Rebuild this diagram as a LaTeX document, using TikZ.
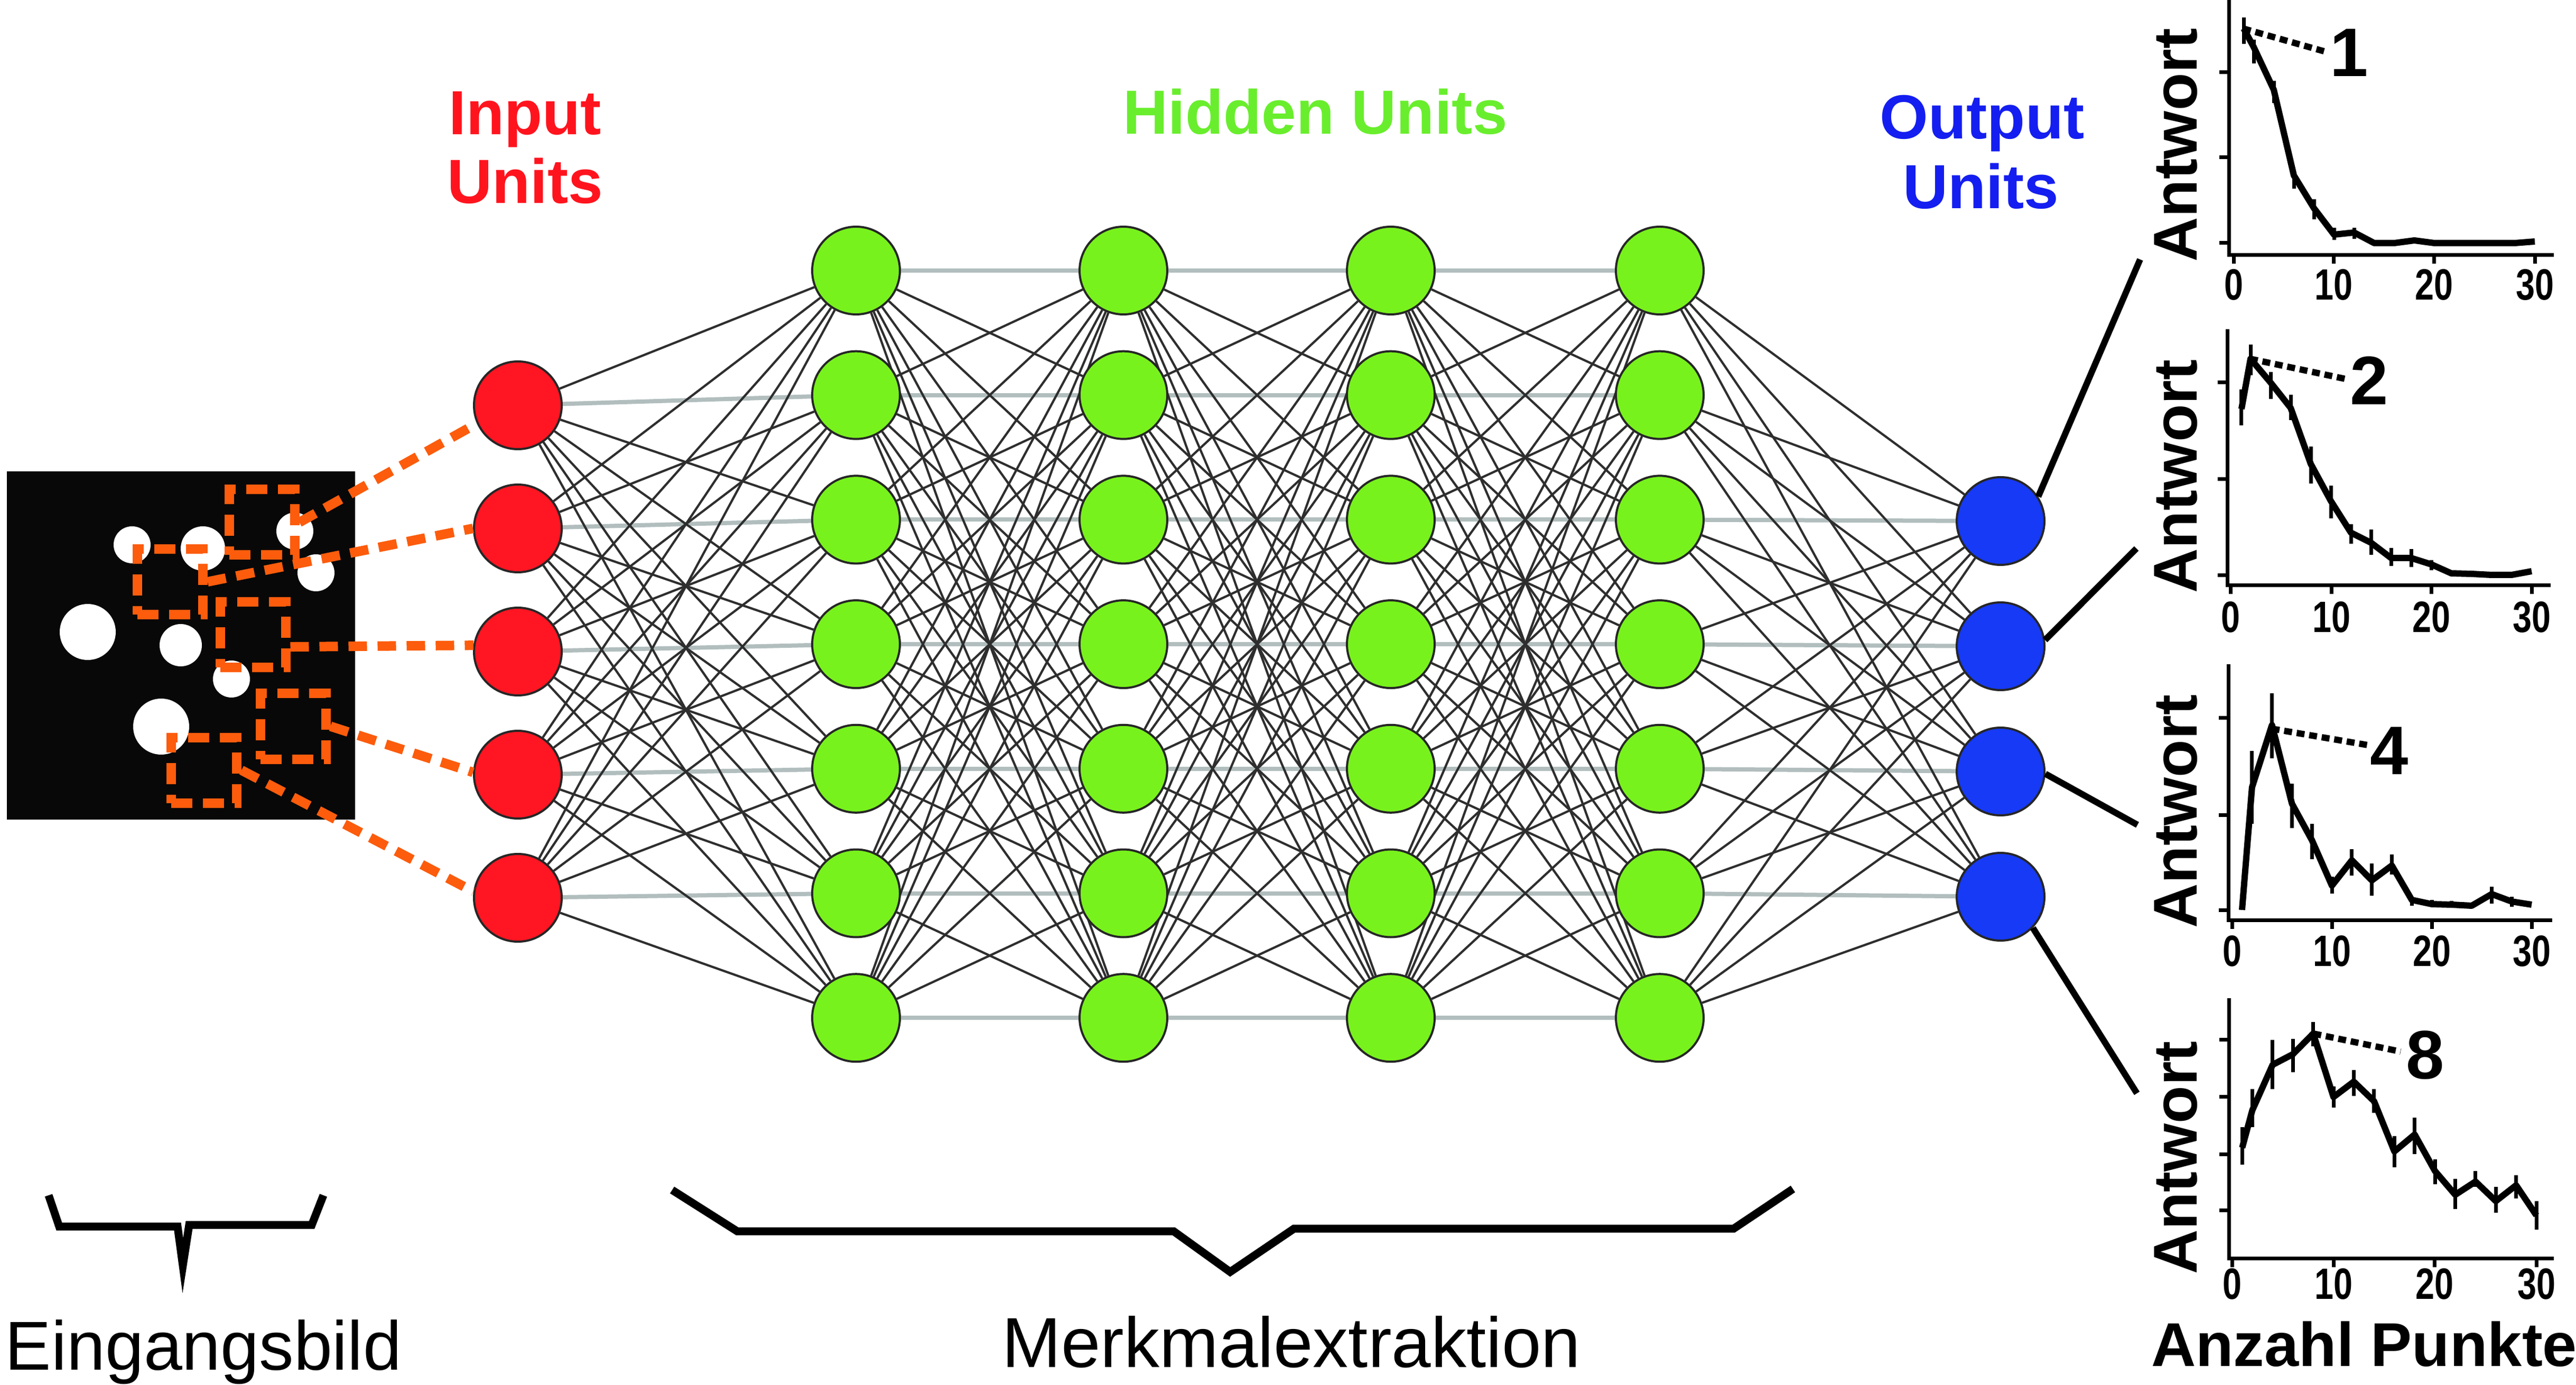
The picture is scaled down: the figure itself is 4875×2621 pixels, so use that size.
\documentclass[tikz,border=0pt]{standalone}
\usepackage{fontspec}
\setmainfont{Liberation Sans}
\usepackage{graphicx}
\definecolor{inred}{RGB}{255,22,34}
\definecolor{hidgreen}{RGB}{120,242,28}
\definecolor{outblue}{RGB}{22,58,245}
\definecolor{txtred}{RGB}{255,20,30}
\definecolor{txtgreen}{RGB}{105,238,45}
\definecolor{txtblue}{RGB}{20,30,240}
\definecolor{patchorange}{RGB}{252,92,12}
\definecolor{edgegray}{RGB}{178,190,190}
\definecolor{imgblack}{RGB}{8,8,8}
\pgfdeclarelayer{bg}
\pgfsetlayers{bg,main}
\newcommand{\ticktext}[1]{\scalebox{0.78}[1]{#1}}
\begin{document}
\begin{tikzpicture}[x=0.2pt,y=-0.2pt,
  unit/.style={circle,draw=black!85,line width=0.8pt,minimum size=33.2pt,inner sep=0pt},
  inunit/.style={unit,fill=inred},
  hidunit/.style={unit,fill=hidgreen},
  outunit/.style={unit,fill=outblue},
  edge/.style={draw=black!82,line width=0.85pt},
  hedge/.style={draw=edgegray,line width=1.6pt},
  patch/.style={draw=patchorange,line width=3.6pt,dash pattern=on 8pt off 4pt,minimum size=24.8pt,inner sep=0pt},
  link/.style={draw=patchorange,line width=3.6pt,dash pattern=on 7pt off 4pt},
  bracket/.style={line width=3pt,line join=miter},
  toplbl/.style={anchor=base,inner sep=0pt,font=\fontsize{23.6pt}{28pt}\selectfont\bfseries},
  botlbl/.style={anchor=base,inner sep=0pt},
  axlbl/.style={inner sep=0pt,font=\fontsize{23.4pt}{28pt}\selectfont\bfseries},
  numlbl/.style={inner sep=0pt,font=\fontsize{26pt}{30pt}\selectfont\bfseries},
  ticklbl/.style={inner sep=0pt,font=\fontsize{16.6pt}{19pt}\selectfont\bfseries},
  axis/.style={line width=1.4pt,line cap=rect},
  curve/.style={line width=2.4pt,line join=round},
  errbar/.style={line width=1.4pt},
  dotline/.style={line width=2.4pt,dash pattern=on 3pt off 1.8pt},
  outlink/.style={line width=2.4pt}]
\useasboundingbox (0,0) rectangle (4875,2621);

% ---------- network units ----------
\foreach \i in {1,...,5}
  \node[inunit] (in\i) at (980,{767+233*(\i-1)}) {};
\foreach \l/\x in {1/1620,2/2126,3/2632,4/3141}
  \foreach \j in {1,...,7}
    \node[hidunit] (h\l-\j) at (\x,{512+235.7*(\j-1)}) {};
\foreach \k in {1,...,4}
  \node[outunit] (out\k) at (3786,{986+237*(\k-1)}) {};

% ---------- connections ----------
\begin{pgfonlayer}{bg}
\fill[white] (0,0) rectangle (4875,2621);
\foreach \i in {1,...,5}
  \foreach \j in {1,...,7}{
    \pgfmathtruncatemacro\dd{\j-\i}
    \ifnum\dd=1 \draw[hedge] (in\i) -- (h1-\j); \fi
  }
\foreach \l/\m in {1/2,2/3,3/4}
  \foreach \i in {1,...,7}
    \draw[hedge] (h\l-\i) -- (h\m-\i);
\foreach \j in {1,...,7}
  \foreach \k in {1,...,4}{
    \pgfmathtruncatemacro\dd{\j-\k}
    \ifnum\dd=2 \draw[hedge] (h4-\j) -- (out\k); \fi
  }
\foreach \i in {1,...,5}
  \foreach \j in {1,...,7}{
    \pgfmathtruncatemacro\dd{\j-\i}
    \ifnum\dd=1 \else \draw[edge] (in\i) -- (h1-\j); \fi
  }
\foreach \l/\m in {1/2,2/3,3/4}
  \foreach \i in {1,...,7}
    \foreach \j in {1,...,7}{
      \ifnum\i=\j \else \draw[edge] (h\l-\i) -- (h\m-\j); \fi
    }
\foreach \j in {1,...,7}
  \foreach \k in {1,...,4}{
    \pgfmathtruncatemacro\dd{\j-\k}
    \ifnum\dd=2 \else \draw[edge] (h4-\j) -- (out\k); \fi
  }
\end{pgfonlayer}

% ---------- input image ----------
\node[fill=imgblack,minimum width=131.8pt,minimum height=131.8pt,inner sep=0pt] (img) at (342.5,1221.5) {};
\foreach \cx/\cy/\r in {250/1031/7pt,384/1038/8.4pt,558/1005/7pt,598/1084/7pt,166/1196/10.6pt,342/1221/8pt,438/1285/7pt,305/1375/10.6pt}
  \fill[white] (\cx,\cy) circle[radius=\r];
\node[patch] (pA) at (495.5,988.5) {};
\node[patch] (pB) at (322,1101) {};
\node[patch] (pC) at (478.5,1201) {};
\node[patch] (pD) at (554.5,1374.5) {};
\node[patch] (pE) at (386,1457.5) {};
\draw[link] (pA.east) -- (in1.204);
\draw[link] (pB.east) -- (in2.west);
\draw[link] (pC.-18) -- (in3.172);
\draw[link] (pD.east) -- (in4.177);
\draw[link] (pE.east) -- (in5.172);

% ---------- labels ----------
\node[toplbl,text=txtred] (inlblA) at (994,255) {Input};
\node[toplbl,text=txtred] (inlblB) at (994,385) {Units};
\node[toplbl,text=txtgreen] (hidlbl) at (2489,254) {Hidden Units};
\node[toplbl,text=txtblue] (outlblA) at (3751,263) {Output};
\node[toplbl,text=txtblue] (outlblB) at (3749,395) {Units};

% ---------- brackets ----------
\draw[bracket] (92,2262) -- (112,2321) -- (336,2321) -- (346,2395) -- (358,2318) -- (590,2318) -- (612,2262);
\draw[bracket] (1272,2252) -- (1395,2330) -- (2221,2330) -- (2328,2407) -- (2449,2325) -- (3281,2325) -- (3393,2250);
\node[botlbl,font=\fontsize{26.2pt}{30pt}\selectfont] (eing) at (385,2592) {Eingangsbild};
\node[botlbl,font=\fontsize{26.8pt}{30pt}\selectfont] (merk) at (2444,2587) {Merkmalextraktion};

% ---------- links to charts ----------
\coordinate (c1) at (4050,491);
\coordinate (c2) at (4043,1038);
\coordinate (c3) at (4045,1561);
\coordinate (c4) at (4044,2069);
\draw[outlink] (out1.33) -- (c1);
\draw[outlink] (out2.8) -- (c2);
\draw[outlink] (out3.-3) -- (c3);
\draw[outlink] (out4.-44) -- (c4);

% ---------- chart 1 ----------
\draw[axis] (4218,0) -- (4218,483) -- (4829,483);
\foreach \y in {137,298,460} \draw[axis] (4218,\y) -- (4203,\y);
\foreach \x/\t in {4227/0,4416/10,4606/20,4797/30}{
  \draw[axis] (\x,483) -- (\x,496);
  \node[ticklbl] at (\x,539) {\ticktext{\t}};}
\begin{scope}[shift={(4227,0)},xscale=19]
\draw[curve] (1,54) -- (2,89) -- (4,170) -- (6,332) -- (8,394) -- (10,444) -- (12,440) -- (14,460) -- (16,460) -- (18,455) -- (20,460) -- (28,460) -- (30,457);
\foreach \d/\a/\b in {1/33/83,2/75/120,4/153/195,6/323/357,8/377/415,10/431/454,12/431/452}
  \draw[errbar] (\d,\a) -- (\d,\b);
\end{scope}
\coordinate (p1) at (4245,54);
\coordinate (q1) at (4398,97);
\draw[dotline] (p1) -- (q1);
\node[numlbl] (n1) at (4446,100) {1};
\node[axlbl,rotate=90] (ant1) at (4118,275) {Antwort};

% ---------- chart 2 ----------
\draw[axis] (4215,627) -- (4215,1108) -- (4823,1108);
\foreach \y in {724,907,1089} \draw[axis] (4215,\y) -- (4200,\y);
\foreach \x/\t in {4221/0,4412/10,4601/20,4791/30}{
  \draw[axis] (\x,1108) -- (\x,1121);
  \node[ticklbl] at (\x,1168) {\ticktext{\t}};}
\begin{scope}[shift={(4221,0)},xscale=19]
\draw[curve] (1.1,774) -- (2,679) -- (4,724) -- (6,772) -- (8,878) -- (10,948) -- (12,1008) -- (14,1027) -- (16,1056) -- (18,1056) -- (20,1068) -- (22,1085) -- (24,1086) -- (26,1088) -- (28,1088) -- (30,1081);
\foreach \d/\a/\b in {1.1/737/805,2/652/710,4/704/755,6/747/795,8/845/915,10/919/981,12/992/1029,14/1002/1050,16/1037/1071,18/1039/1073,20/1060/1079}
  \draw[errbar] (\d,\a) -- (\d,\b);
\end{scope}
\coordinate (p2) at (4258,679);
\coordinate (q2) at (4443,718);
\draw[dotline] (p2) -- (q2);
\node[numlbl] (n2) at (4484,720) {2};
\node[axlbl,rotate=90] (ant2) at (4118,902) {Antwort};

% ---------- chart 3 ----------
\draw[axis] (4217,1261) -- (4217,1741) -- (4826,1741);
\foreach \y in {1358,1542,1722} \draw[axis] (4217,\y) -- (4202,\y);
\foreach \x/\t in {4224/0,4413/10,4602/20,4791/30}{
  \draw[axis] (\x,1741) -- (\x,1754);
  \node[ticklbl] at (\x,1800) {\ticktext{\t}};}
\begin{scope}[shift={(4224,0)},xscale=18.9]
\draw[curve] (1,1722) -- (2,1490) -- (4,1372) -- (6,1521) -- (8,1590) -- (10,1676) -- (12,1628) -- (14,1666) -- (16,1638) -- (18,1703) -- (20,1711) -- (22,1712) -- (24,1714) -- (26,1692) -- (28,1706) -- (30,1712);
\foreach \d/\a/\b in {2/1421/1559,4/1312/1435,6/1483/1567,8/1559/1626,10/1659/1691,12/1607/1657,14/1634/1695,16/1617/1655,18/1697/1714,20/1703/1716,22/1705/1716,26/1678/1710,28/1697/1716}
  \draw[errbar] (\d,\a) -- (\d,\b);
\end{scope}
\coordinate (p3) at (4299,1379);
\coordinate (q3) at (4481,1410);
\draw[dotline] (p3) -- (q3);
\node[numlbl] (n4) at (4522,1421) {4};
\node[axlbl,rotate=90] (ant3) at (4118,1536) {Antwort};

% ---------- chart 4 ----------
\draw[axis] (4218,1892) -- (4218,2381) -- (4829,2381);
\foreach \y in {1967,2075,2184,2290} \draw[axis] (4218,\y) -- (4203,\y);
\foreach \x/\t in {4224/0,4416/10,4607/20,4800/30}{
  \draw[axis] (\x,2381) -- (\x,2394);
  \node[ticklbl] at (\x,2430) {\ticktext{\t}};}
\begin{scope}[shift={(4224,0)},xscale=19.2]
\draw[curve] (1,2172) -- (2,2101) -- (4,2015) -- (6,1995) -- (8,1956) -- (10,2076) -- (12,2047) -- (14,2084) -- (16,2179) -- (18,2147) -- (20,2216) -- (22,2261) -- (24,2236) -- (26,2273) -- (28,2243) -- (30,2300);
\foreach \d/\a/\b in {1/2133/2204,2/2061/2133,4/1968/2061,6/1966/2029,8/1934/1980,10/2056/2096,12/2025/2074,14/2061/2106,16/2150/2209,18/2115/2184,20/2194/2241,22/2231/2288,24/2216/2246,26/2246/2295,28/2224/2268,30/2273/2327}
  \draw[errbar] (\d,\a) -- (\d,\b);
\end{scope}
\coordinate (p4) at (4378,1956);
\coordinate (q4) at (4543,1990);
\draw[dotline] (p4) -- (q4);
\node[numlbl] (n8) at (4590,1997) {8};
\node[axlbl,rotate=90] (ant4) at (4118,2191) {Antwort};
\node[axlbl] (anz) at (4474,2544) {Anzahl Punkte};
\end{tikzpicture}
\end{document}
